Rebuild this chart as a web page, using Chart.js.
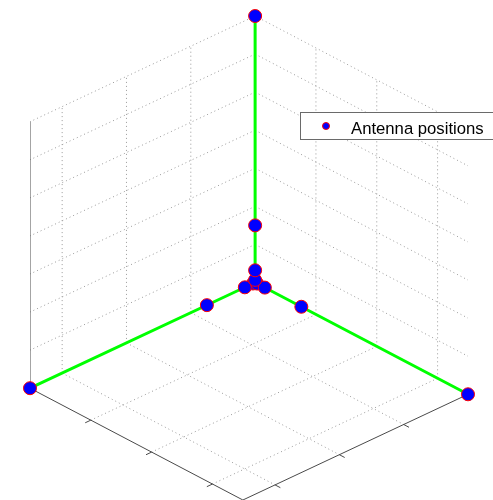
<!DOCTYPE html>
<html>
<head>
<meta charset="utf-8">
<script src="https://cdn.jsdelivr.net/npm/chart.js@4.4.1/dist/chart.umd.min.js"></script>
<style>
  html, body { margin: 0; padding: 0; background: #fff; overflow: hidden; }
  canvas { display: block; }
</style>
</head>
<body>
<canvas id="chart" width="493" height="500"></canvas>
<script>
// Antenna positions (one entry per antenna)
const antennaX = [0, 0.034, 0.16, 0.75, 3.5, 0, 0, 0, 0, 0, 0, 0, 0];
const antennaY = [0, 0, 0, 0, 0, 0.034, 0.16, 0.76, 3.5, 0, 0, 0, 0];
const antennaZ = [0, 0, 0, 0, 0, 0, 0, 0, 0, 0.034, 0.16, 0.75, 3.5];

// Axis limits and ticks
const xLim = [0, 3.5];
const yLim = [0, 3.5];
const zLim = [0, 3.5];
const xTicks = [0, 1, 2, 3];
const yTicks = [0, 1, 2, 3];
const zTicks = [0, 0.5, 1, 1.5, 2, 2.5, 3, 3.5];

const legendLabel = "Antenna positions";

// View (orthographic)
const azimuth = 43.4 * Math.PI / 180;
const elevation = 30 * Math.PI / 180;
const tickLen = 0.025; // fraction of axis range

function norm(v, lim) {
  return (v - lim[0]) / (lim[1] - lim[0]);
}

// project 3D data point to the 2D view plane
function project(x, y, z) {
  const a = norm(x, xLim), b = norm(y, yLim), c = norm(z, zLim);
  return {
    x: -a * Math.cos(azimuth) + b * Math.sin(azimuth),
    y: -(a * Math.sin(azimuth) + b * Math.cos(azimuth)) * Math.sin(elevation) + c * Math.cos(elevation),
  };
}

const gap = { x: null, y: null };

function segs(list) {
  const out = [];
  list.forEach(([p, q]) => {
    out.push(project(...p), project(...q), gap);
  });
  return out;
}

// grid lines on the floor and the two back walls
const gridSegs = [];
xTicks.forEach((t) => {
  gridSegs.push([[t, yLim[0], zLim[0]], [t, yLim[1], zLim[0]]]);
  gridSegs.push([[t, yLim[0], zLim[0]], [t, yLim[0], zLim[1]]]);
});
yTicks.forEach((t) => {
  gridSegs.push([[xLim[0], t, zLim[0]], [xLim[1], t, zLim[0]]]);
  gridSegs.push([[xLim[0], t, zLim[0]], [xLim[0], t, zLim[1]]]);
});
zTicks.forEach((t) => {
  gridSegs.push([[xLim[0], yLim[0], t], [xLim[1], yLim[0], t]]);
  gridSegs.push([[xLim[0], yLim[0], t], [xLim[0], yLim[1], t]]);
});

// axis lines and tick marks (ticks point out of the box)
const dx = (xLim[1] - xLim[0]) * tickLen;
const dy = (yLim[1] - yLim[0]) * tickLen;
const axisSegs = [
  [[xLim[1], yLim[0], zLim[0]], [xLim[1], yLim[0], zLim[1]]],
  [[xLim[1], yLim[0], zLim[0]], [xLim[1], yLim[1], zLim[0]]],
  [[xLim[0], yLim[1], zLim[0]], [xLim[1], yLim[1], zLim[0]]],
];
xTicks.forEach((t) => axisSegs.push([[t, yLim[1], zLim[0]], [t, yLim[1] + dy, zLim[0]]]));
yTicks.forEach((t) => axisSegs.push([[xLim[1], t, zLim[0]], [xLim[1] + dx, t, zLim[0]]]));
zTicks.forEach((t) => axisSegs.push([[xLim[1], yLim[0], t], [xLim[1], yLim[0] - dy, t]]));

// green arms: origin to the farthest antenna on each axis
const armSegs = [
  [[0, 0, 0], [Math.max(...antennaX), 0, 0]],
  [[0, 0, 0], [0, Math.max(...antennaY), 0]],
  [[0, 0, 0], [0, 0, Math.max(...antennaZ)]],
];

const antennaPts = antennaX.map((x, i) => project(x, antennaY[i], antennaZ[i]));

// bounding box of the projected plot box
const corners = [];
[xLim[0], xLim[1]].forEach((x) => [yLim[0], yLim[1]].forEach((y) =>
  [zLim[0], zLim[1]].forEach((z) => corners.push(project(x, y, z)))));
const uMin = Math.min(...corners.map((p) => p.x)), uMax = Math.max(...corners.map((p) => p.x));
const vMin = Math.min(...corners.map((p) => p.y)), vMax = Math.max(...corners.map((p) => p.y));

const legendPlugin = {
  id: "boxLegend",
  afterDraw(chart) {
    const ctx = chart.ctx;
    ctx.save();
    ctx.fillStyle = "#ffffff";
    ctx.fillRect(300.5, 112.5, 220, 27);
    ctx.strokeStyle = "#6a6a6a";
    ctx.lineWidth = 1;
    ctx.strokeRect(300.5, 112.5, 220, 27);
    ctx.beginPath();
    ctx.arc(326, 126, 3.5, 0, Math.PI * 2);
    ctx.fillStyle = "#0000ff";
    ctx.fill();
    ctx.strokeStyle = "#ff0000";
    ctx.stroke();
    ctx.fillStyle = "#000000";
    ctx.font = "16.7px 'Liberation Sans', Arial, sans-serif";
    ctx.textBaseline = "alphabetic";
    ctx.fillText(legendLabel, 351, 133.5);
    ctx.restore();
  },
};

new Chart(document.getElementById("chart"), {
  type: "scatter",
  data: {
    datasets: [
      {
        label: "grid",
        data: segs(gridSegs),
        showLine: true,
        borderColor: "#9a9a9a",
        borderWidth: 1,
        borderDash: [1, 3],
        pointRadius: 0,
        order: 4,
      },
      {
        label: "axes",
        data: segs(axisSegs),
        showLine: true,
        borderColor: "#4a4a4a",
        borderWidth: 1,
        pointRadius: 0,
        order: 3,
      },
      {
        label: "arms",
        data: segs(armSegs),
        showLine: true,
        borderColor: "#00ff00",
        borderWidth: 3,
        pointRadius: 0,
        order: 2,
        clip: false,
      },
      {
        label: legendLabel,
        data: antennaPts,
        backgroundColor: "#0000ff",
        borderColor: "#ff0000",
        borderWidth: 1,
        pointRadius: 6.5,
        order: 1,
        clip: false,
      },
    ],
  },
  options: {
    responsive: false,
    animation: false,
    events: [],
    layout: { autoPadding: false, padding: { left: 30, right: 25, top: 16, bottom: 0 } },
    scales: {
      x: { type: "linear", display: false, min: uMin, max: uMax },
      y: { type: "linear", display: false, min: vMin, max: vMax },
    },
    plugins: {
      legend: { display: false },
      tooltip: { enabled: false },
    },
  },
  plugins: [legendPlugin],
});
</script>
</body>
</html>
